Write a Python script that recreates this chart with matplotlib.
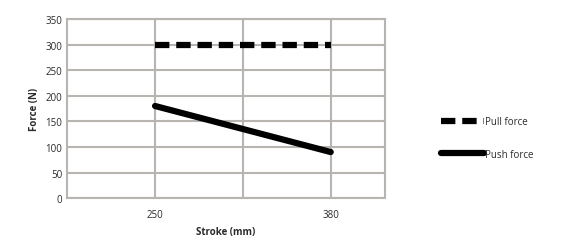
import matplotlib
matplotlib.use("Agg")
import matplotlib.pyplot as plt

# data
stroke = [250, 380]
pull_force = [300, 300]
push_force = [180, 90]
y_ticks = [0, 50, 100, 150, 200, 250, 300, 350]

plt.rcParams["font.family"] = ["Open Sans", "DejaVu Sans"]

fig = plt.figure(figsize=(5.65, 2.53), dpi=100)
ax = fig.add_axes([0.119, 0.213, 0.562, 0.708])

grid_col = "#b8b4b0"
txt_col = "#2a2a2a"
ax.plot(stroke, pull_force, color="black", lw=4.5, ls=(0, (2.3, 1.1)),
        dash_capstyle="butt", label="Pull force")
ax.plot(stroke, push_force, color="black", lw=4.5, solid_capstyle="round",
        label="Push force")

ax.set_xlim(185, 420)
ax.set_ylim(0, 350)
ax.set_xticks(stroke)
ax.set_xticks([315], minor=True)
ax.set_yticks(y_ticks)
ax.tick_params(axis="both", which="both", length=0, labelsize=7, colors=txt_col)
ax.tick_params(axis="x", pad=8)
ax.grid(True, which="both", color=grid_col, lw=1.5)
ax.set_axisbelow(True)
for s in ax.spines.values():
    s.set_color(grid_col)
    s.set_linewidth(1.5)

ax.set_xlabel("Stroke (mm)", fontsize=7, fontweight="bold", color=txt_col, labelpad=4)
ax.set_ylabel("Force (N)", fontsize=7, fontweight="bold", color=txt_col, labelpad=4)

ax.legend(loc="center left", bbox_to_anchor=(1.15, 0.335), frameon=False,
          fontsize=7, handlelength=4.4, handletextpad=0.1, labelspacing=2.2,
          labelcolor=txt_col)

fig.savefig("out.png", dpi=100)
